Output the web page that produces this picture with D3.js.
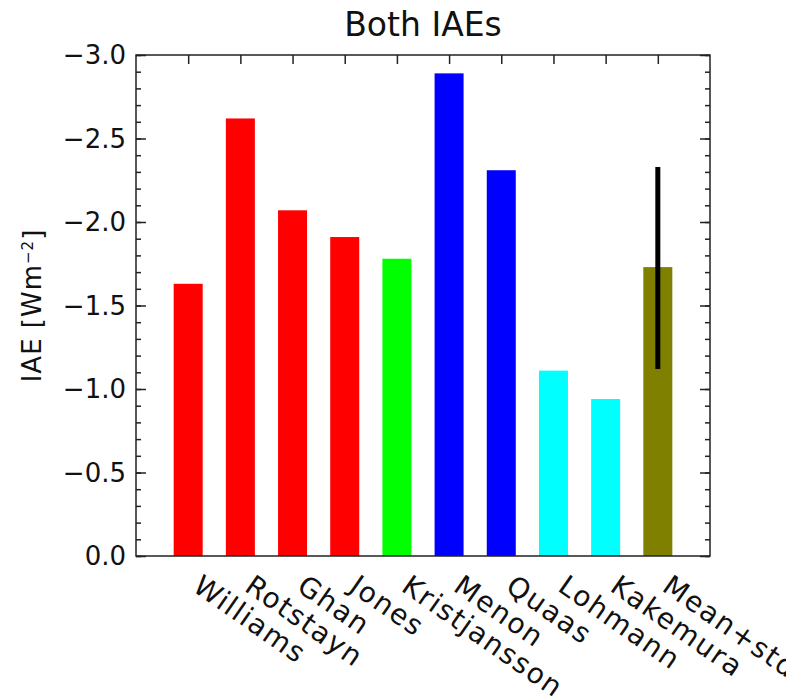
<!DOCTYPE html>
<html>
<head>
<meta charset="utf-8">
<script src="https://cdn.jsdelivr.net/npm/d3@7"></script>
<style>
  body { margin: 0; background: white; }
  text { font-family: "DejaVu Sans", sans-serif; fill: #111; }
</style>
</head>
<body>
<div id="chart"></div>
<script>
// data
var models = ["Williams", "Rotstayn", "Ghan", "Jones", "Kristjansson",
              "Menon", "Quaas", "Lohmann", "Kakemura", "Mean+std"];
var iae    = [-1.63, -2.62, -2.07, -1.91, -1.78, -2.89, -2.31, -1.11, -0.94, -1.73];
var barColors = ["#ff0000", "#ff0000", "#ff0000", "#ff0000", "#00ff00",
                 "#0000ff", "#0000ff", "#00ffff", "#00ffff", "#808000"];
var meanStd = [-1.12, -2.33];   // error bar ends for the mean
var yTicks = [0, -0.5, -1.0, -1.5, -2.0, -2.5, -3.0];

var W = 786, H = 699;
var box = {left: 136, right: 710, top: 55, bottom: 556};

var svg = d3.select("#chart").append("svg")
    .attr("width", W)
    .attr("height", H);

// scales
var x = d3.scaleLinear().domain([0, models.length + 1]).range([box.left, box.right]);
var y = d3.scaleLinear().domain([0, -3]).range([box.bottom, box.top]);
var barW = 29;

// bars
svg.append("g").selectAll("rect")
    .data(iae)
    .enter().append("rect")
    .attr("x", function(d, i) { return x(i + 1) - barW / 2; })
    .attr("y", function(d) { return y(d); })
    .attr("width", barW)
    .attr("height", function(d) { return y(0) - y(d); })
    .attr("fill", function(d, i) { return barColors[i]; });

// error bar on mean
svg.append("line")
    .attr("x1", x(models.length)).attr("x2", x(models.length))
    .attr("y1", y(meanStd[0])).attr("y2", y(meanStd[1]))
    .attr("stroke", "black")
    .attr("stroke-width", 5);

// frame
svg.append("rect")
    .attr("x", box.left).attr("y", box.top)
    .attr("width", box.right - box.left)
    .attr("height", box.bottom - box.top)
    .attr("fill", "none")
    .attr("stroke", "#222")
    .attr("stroke-width", 1.5);

// y axes, ticks pointing inward on both sides
var minor = d3.range(0, 31).map(function(k) { return -k / 10; });
var yl = d3.axisRight(y).tickValues(yTicks).tickSize(10).tickFormat("");
var yr = d3.axisLeft(y).tickValues(yTicks).tickSize(10).tickFormat("");
var ylm = d3.axisRight(y).tickValues(minor).tickSize(5).tickFormat("");
var yrm = d3.axisLeft(y).tickValues(minor).tickSize(5).tickFormat("");
[[yl, box.left], [ylm, box.left], [yr, box.right], [yrm, box.right]].forEach(function(a) {
  var g = svg.append("g").attr("transform", "translate(" + a[1] + ",0)").call(a[0]);
  g.select(".domain").remove();
  g.selectAll("line").attr("stroke", "#222").attr("stroke-width", 1.5);
});

// top axis ticks at each bar
var xt = d3.axisBottom(x).tickValues(d3.range(1, models.length + 1)).tickSize(9).tickFormat("");
var gt = svg.append("g").attr("transform", "translate(0," + box.top + ")").call(xt);
gt.select(".domain").remove();
gt.selectAll("line").attr("stroke", "#222").attr("stroke-width", 1.5);

// y tick labels
svg.append("g").selectAll("text")
    .data(yTicks)
    .enter().append("text")
    .attr("x", box.left - 10)
    .attr("y", function(d) { return y(d); })
    .attr("dy", "0.36em")
    .attr("text-anchor", "end")
    .style("font-size", "26px")
    .text(function(d) { return d3.format(".1f")(d).replace("-", "\u2212"); });

// x labels, rotated (last one runs off the right edge, as in the original)
svg.append("g").selectAll("text")
    .data(models)
    .enter().append("text")
    .attr("transform", function(d, i) {
      return "translate(" + (x(i + 1) + 3) + "," + (box.bottom + 34) + ") rotate(35)";
    })
    .attr("text-anchor", "start")
    .style("font-size", "28px")
    .style("letter-spacing", "1.6px")
    .text(function(d) { return d; });

// y title
var yt = svg.append("text")
    .attr("transform", "translate(41," + ((box.top + box.bottom) / 2) + ") rotate(-90)")
    .attr("text-anchor", "middle")
    .style("font-size", "26px")
    .style("letter-spacing", "1px");
yt.append("tspan").text("IAE [Wm");
yt.append("tspan").attr("dy", "-0.55em").style("font-size", "15px").text("\u22122");
yt.append("tspan").attr("dy", "0.35em").text("]");

// title
svg.append("text")
    .attr("x", (box.left + box.right) / 2)
    .attr("y", 36)
    .attr("text-anchor", "middle")
    .style("font-size", "33px")
    .text("Both IAEs");
</script>
</body>
</html>
